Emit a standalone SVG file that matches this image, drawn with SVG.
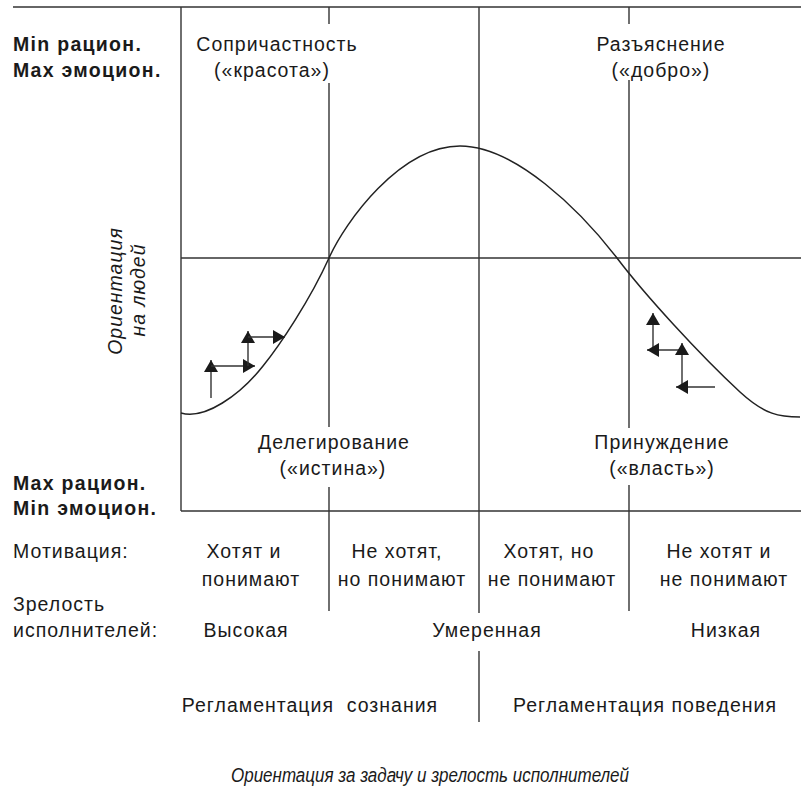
<svg xmlns="http://www.w3.org/2000/svg" width="801" height="793" viewBox="0 0 801 793">
<style>
  .ln { stroke: #333; stroke-width: 1.4; fill: none; }
  .cv { stroke: #222; stroke-width: 1.5; fill: none; }
  .ar { stroke: #333; stroke-width: 1.4; fill: none; marker-end: url(#ah); }
  text { font-family: "Liberation Sans", Arial, sans-serif; font-size: 19.5px; fill: #1a1a1a; letter-spacing: 1px; }
  .b { font-weight: bold; letter-spacing: 1.3px; }
  .c { text-anchor: middle; }
  .i { font-style: italic; }
  .s { font-size: 20px; letter-spacing: 0; }
</style>
<defs>
  <marker id="ah" viewBox="0 0 12 14" refX="12" refY="7" markerWidth="12" markerHeight="14" markerUnits="userSpaceOnUse" orient="auto">
    <path d="M0,0 L12,7 L0,14 z" fill="#1a1a1a"/>
  </marker>
</defs>

<g id="grid">
  <line class="ln" x1="13" y1="7" x2="801" y2="7"/>
  <line class="ln" x1="181" y1="7" x2="181" y2="511"/>
  <line class="ln" x1="181" y1="511" x2="801" y2="511"/>
  <line class="ln" x1="181" y1="258" x2="801" y2="258"/>
  <line class="ln" x1="329" y1="7" x2="329" y2="24"/>
  <line class="ln" x1="329" y1="83" x2="329" y2="427"/>
  <line class="ln" x1="329" y1="487" x2="329" y2="611"/>
  <line class="ln" x1="629" y1="7" x2="629" y2="24"/>
  <line class="ln" x1="629" y1="80" x2="629" y2="428"/>
  <line class="ln" x1="629" y1="485" x2="629" y2="611"/>
  <line class="ln" x1="479" y1="7" x2="479" y2="613"/>
  <line class="ln" x1="479" y1="651" x2="479" y2="722"/>
</g>

<g id="curve">
  <path class="cv" d="M181,413 C205,420 240,395 263,366 C280,345 310,300 329,258 C345,222 400,146 460,146 C515,146 580,210 617,258 C645,295 700,355 740,392 C765,415 780,417 800,417"/>
</g>

<g id="connectors">
  <line class="ar" x1="211" y1="398" x2="211" y2="360"/>
  <line class="ar" x1="211" y1="366" x2="255" y2="366"/>
  <line class="ar" x1="248" y1="366" x2="248" y2="331"/>
  <line class="ar" x1="248" y1="337" x2="285" y2="337"/>
  <line class="ar" x1="653" y1="350" x2="653" y2="313"/>
  <line class="ar" x1="682" y1="350" x2="647" y2="350"/>
  <line class="ar" x1="682" y1="387" x2="682" y2="343"/>
  <line class="ar" x1="715" y1="387" x2="676" y2="387"/>
</g>

<g id="left-labels">
  <text class="b" x="13" y="51">Min рацион.</text>
  <text class="b" x="13" y="77">Max эмоцион.</text>
  <text class="b" x="13" y="490">Max рацион.</text>
  <text class="b" x="13" y="515">Min эмоцион.</text>
  <text class="i c" transform="translate(122,291) rotate(-90)">Ориентация</text>
  <text class="i c" transform="translate(145,290) rotate(-90)">на людей</text>
</g>

<g id="q-top-left">
  <text class="c" x="277" y="51">Сопричастность</text>
  <text class="c" x="272" y="77">(«красота»)</text>
</g>
<g id="q-top-right">
  <text class="c" x="661" y="51">Разъяснение</text>
  <text class="c" x="661" y="77">(«добро»)</text>
</g>
<g id="q-bottom-left">
  <text class="c" x="334" y="449">Делегирование</text>
  <text class="c" x="333" y="475">(«истина»)</text>
</g>
<g id="q-bottom-right">
  <text class="c" x="662" y="449">Принуждение</text>
  <text class="c" x="662" y="475">(«власть»)</text>
</g>

<g id="table">
  <text x="13" y="558">Мотивация:</text>
  <text x="13" y="611">Зрелость</text>
  <text x="13" y="637">исполнителей:</text>
  <text class="c" x="244" y="558">Хотят и</text>
  <text class="c" x="251" y="586">понимают</text>
  <text class="c" x="397" y="558">Не хотят,</text>
  <text class="c" x="402" y="586">но понимают</text>
  <text class="c" x="549" y="558">Хотят, но</text>
  <text class="c" x="552" y="586">не понимают</text>
  <text class="c" x="719" y="558">Не хотят и</text>
  <text class="c" x="724" y="586">не понимают</text>
  <text class="c" x="246" y="637">Высокая</text>
  <text class="c" x="487" y="637">Умеренная</text>
  <text class="c" x="726" y="637">Низкая</text>
</g>

<g id="bottom-labels">
  <text class="c" x="310" y="712" xml:space="preserve">Регламентация  сознания</text>
  <text class="c" x="645" y="712">Регламентация поведения</text>
  <text class="i c s" x="430" y="782" textLength="398" lengthAdjust="spacingAndGlyphs">Ориентация за задачу и зрелость исполнителей</text>
</g>
</svg>
